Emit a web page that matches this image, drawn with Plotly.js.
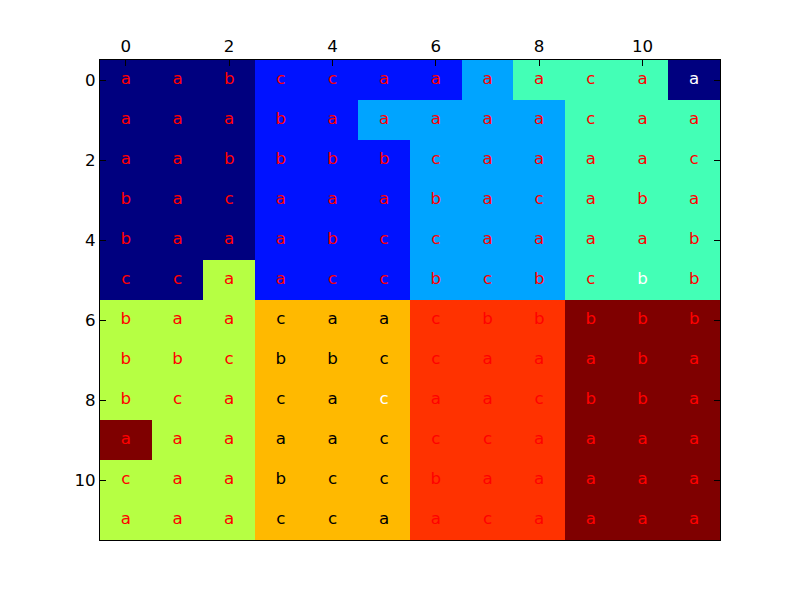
<!DOCTYPE html>
<html>
<head>
<meta charset="utf-8">
<script src="https://cdn.plot.ly/plotly-3.0.1.min.js"></script>
<style>html,body{margin:0;padding:0;background:#fff;}</style>
</head>
<body>
<div id="chart" style="width:800px;height:600px;"></div>
<script>
// Cell category values (row-major, row 0 at top)
const values = [
  [0,0,0,1,1,1,1,2,3,3,3,0],
  [0,0,0,1,1,2,2,2,2,3,3,3],
  [0,0,0,1,1,1,2,2,2,3,3,3],
  [0,0,0,1,1,1,2,2,2,3,3,3],
  [0,0,0,1,1,1,2,2,2,3,3,3],
  [0,0,4,1,1,1,2,2,2,3,3,3],
  [4,4,4,5,5,5,6,6,6,7,7,7],
  [4,4,4,5,5,5,6,6,6,7,7,7],
  [4,4,4,5,5,5,6,6,6,7,7,7],
  [7,4,4,5,5,5,6,6,6,7,7,7],
  [4,4,4,5,5,5,6,6,6,7,7,7],
  [4,4,4,5,5,5,6,6,6,7,7,7]
];
// Letters drawn in each cell
const letters = [
  ["a","a","b","c","c","a","a","a","a","c","a","a"],
  ["a","a","a","b","a","a","a","a","a","c","a","a"],
  ["a","a","b","b","b","b","c","a","a","a","a","c"],
  ["b","a","c","a","a","a","b","a","c","a","b","a"],
  ["b","a","a","a","b","c","c","a","a","a","a","b"],
  ["c","c","a","a","c","c","b","c","b","c","b","b"],
  ["b","a","a","c","a","a","c","b","b","b","b","b"],
  ["b","b","c","b","b","c","c","a","a","a","b","a"],
  ["b","c","a","c","a","c","a","a","c","b","b","a"],
  ["a","a","a","a","a","c","c","c","a","a","a","a"],
  ["c","a","a","b","c","c","b","a","a","a","a","a"],
  ["a","a","a","c","c","a","a","c","a","a","a","a"]
];
// Letter colour codes: r = red, k = black, w = white
const letterColors = [
  "rrrrrrrrrrrw",
  "rrrrrrrrrrrr",
  "rrrrrrrrrrrr",
  "rrrrrrrrrrrr",
  "rrrrrrrrrrrr",
  "rrrrrrrrrrwr",
  "rrrkkkrrrrrr",
  "rrrkkkrrrrrr",
  "rrrkkwrrrrrr",
  "rrrkkkrrrrrr",
  "rrrkkkrrrrrr",
  "rrrkkkrrrrrr"
];
const tickVals = [0,2,4,6,8,10];
const tickText = ["0","2","4","6","8","10"];

const jet = ["#00007f","#0012ff","#00a4ff","#43ffb6","#b6ff43","#ffb900","#ff3200","#7f0000"];
const colorscale = jet.map((c,i)=>[i/(jet.length-1), c]);
const colMap = {r:"#ff0000", k:"#000000", w:"#ffffff"};

const tx=[], ty=[], tt=[], tc=[];
for (let r=0;r<letters.length;r++){
  for (let c=0;c<letters[r].length;c++){
    tx.push(c); ty.push(r); tt.push(letters[r][c]); tc.push(colMap[letterColors[r][c]]);
  }
}
const font = "DejaVu Sans, sans-serif";
const data = [
  {type:"heatmap", z: values, zmin:0, zmax:7, colorscale: colorscale, showscale:false, hoverinfo:"skip"},
  {type:"scatter", mode:"text", x: tx, y: ty, text: tt,
   textfont:{family:font, size:16.67, color: tc}, textposition:"middle center", hoverinfo:"skip", showlegend:false}
];
const layout = {
  width:800, height:600,
  margin:{l:100, r:80, t:60, b:60},
  paper_bgcolor:"#ffffff", plot_bgcolor:"#ffffff",
  showlegend:false,
  xaxis:{side:"top", range:[-0.5,11.5], tickvals:tickVals, ticktext:tickText,
    ticks:"inside", ticklen:6, tickcolor:"#000", showline:true, linecolor:"#000", linewidth:1,
    mirror:true, showgrid:false, zeroline:false, tickfont:{family:font, size:16.67, color:"#000"}},
  yaxis:{range:[11.5,-0.5], tickvals:tickVals, ticktext:tickText,
    ticks:"inside", ticklen:6, tickcolor:"#000", showline:true, linecolor:"#000", linewidth:1,
    mirror:"ticks", showgrid:false, zeroline:false, tickfont:{family:font, size:16.67, color:"#000"}}
};
Plotly.newPlot("chart", data, layout, {displayModeBar:false, staticPlot:true});
</script>
</body>
</html>
